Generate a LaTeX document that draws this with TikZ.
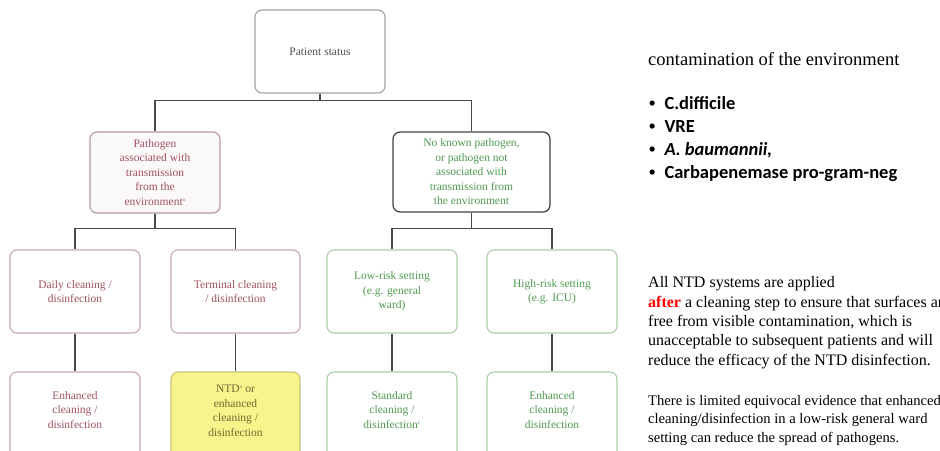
\documentclass[tikz,border=0pt]{standalone}
\usepackage{fontspec}
\setmainfont{Liberation Serif}
\newfontfamily\calfont{Carlito}
\newfontfamily\arialfont{Liberation Sans}
\definecolor{pinktxt}{HTML}{A0525F}
\definecolor{greentxt}{HTML}{4F9A4F}
\definecolor{pinkline}{HTML}{C9A9AF}
\definecolor{greenline}{HTML}{A9CDA9}
\definecolor{grayline}{HTML}{A0A0A0}
\definecolor{graytxt}{HTML}{505050}
\definecolor{connline}{HTML}{4A4A4A}
\definecolor{ntdfill}{HTML}{F8F48C}
\definecolor{ntdline}{HTML}{C8C27A}
\definecolor{ntdtxt}{HTML}{6A6A30}
\tikzset{
  box/.style={draw=grayline, line width=1.1pt, rounded corners=7pt, fill=white,
    align=center, inner sep=2pt, font=\fontsize{11.5}{14.5}\selectfont},
  pinkbox/.style={box, draw=pinkline, text=pinktxt},
  greenbox/.style={box, draw=greenline, text=greentxt},
  txt/.style={align=center, inner sep=0pt, font=\fontsize{11.5}{14.5}\selectfont},
  conn/.style={draw=connline, line width=1.5pt},
  bul/.style={anchor=base west, inner sep=0pt, font=\calfont\bfseries\fontsize{18.5}{22}\selectfont},
}
\newcommand{\bulmark}{{\arialfont\fontsize{18}{18}\selectfont\textbullet}\hspace{9pt}}
\begin{document}
\begin{tikzpicture}[x=1pt,y=-1pt]
\useasboundingbox (0,0) rectangle (940,450);
\clip (0,0) rectangle (940,450);
% row 1
\node[box, text=graytxt, minimum width=130, minimum height=83] (ps) at (320,51.5) {Patient status};
% row 2
\node[pinkbox, fill=pinktxt!4, draw=pinkline!90!black, minimum width=130, minimum height=81] (pa) at (155,172.5)
  {Pathogen\\associated with\\transmission\\from the\\environment\textsuperscript{\tiny a}};
\node[greenbox, draw=black!75, line width=1.2pt, minimum width=157, minimum height=80] (nk) at (471.5,172)
  {No known pathogen,\\or pathogen not\\associated with\\transmission from\\the environment};
% row 3
\node[pinkbox, minimum width=130, minimum height=83] (dc) at (75,291.5) {Daily cleaning /\\disinfection};
\node[pinkbox, minimum width=129, minimum height=83] (tc) at (235.5,291.5) {Terminal cleaning\\/ disinfection};
\node[greenbox, minimum width=130, minimum height=83] (lr) at (392,291.5) {Low-risk setting\\(e.g. general\\ward)};
\node[greenbox, minimum width=130, minimum height=83] (hr) at (552,291.5) {High-risk setting\\(e.g. ICU)};
% row 4
\node[pinkbox, minimum width=130, minimum height=100] (ec1) at (75,422) {};
\node[box, draw=ntdline, fill=ntdfill, minimum width=129, minimum height=100] (ntd) at (235.5,422) {};
\node[greenbox, minimum width=130, minimum height=100] (sc) at (392,422) {};
\node[greenbox, minimum width=130, minimum height=100] (ec2) at (552,422) {};
\node[txt, text=pinktxt] (ec1t) at (75,410) {Enhanced\\cleaning /\\disinfection};
\node[txt, text=ntdtxt] (ntdt) at (235.5,411) {NTD\textsuperscript{\tiny a} or\\enhanced\\cleaning /\\disinfection};
\node[txt, text=greentxt] (sct) at (392,410) {Standard\\cleaning /\\disinfection\textsuperscript{\tiny c}};
\node[txt, text=greentxt] (ec2t) at (552,410) {Enhanced\\cleaning /\\disinfection};
% connectors
\draw[conn] (ps.south) -- ++(0,7) -| (pa.north);
\draw[conn] (ps.south) -- ++(0,7) -| (nk.north);
\draw[conn] (pa.south) -- ++(0,15) -| (dc.north);
\draw[conn] (pa.south) -- ++(0,15) -| (tc.north);
\draw[conn] (nk.south) -- ++(0,16) -| (lr.north);
\draw[conn] (nk.south) -- ++(0,16) -| (hr.north);
\draw[conn] (dc.south) -- (ec1.north);
\draw[conn] (tc.south) -- (ntd.north);
\draw[conn] (lr.south) -- (sc.north);
\draw[conn] (hr.south) -- (ec2.north);
% right-hand text
\node[anchor=base west, inner sep=0pt, font=\fontsize{18.5}{22}\selectfont] (ct) at (648,65) {contamination of the environment};
\node[bul] (b1) at (649,109) {\bulmark C.difficile};
\node[bul] (b2) at (649,132) {\bulmark VRE};
\node[bul] (b3) at (649,155) {\bulmark\itshape A. baumannii,};
\node[bul] (b4) at (649,178) {\bulmark Carbapenemase pro-gram-neg};
\node[anchor=base west, inner sep=0pt, align=left, font=\fontsize{16}{19.3}\selectfont] (p1) at (648,365)
  {All NTD systems are applied\\
   {\color{red}\bfseries after} a cleaning step to ensure that surfaces are\\
   free from visible contamination, which is\\
   unacceptable to subsequent patients and will\\
   reduce the efficacy of the NTD disinfection.};
\node[anchor=base west, inner sep=0pt, align=left, font=\fontsize{14.6}{18.4}\selectfont] (p2) at (648,442)
  {There is limited equivocal evidence that enhanced\\
   cleaning/disinfection in a low-risk general ward\\
   setting can reduce the spread of pathogens.};
\end{tikzpicture}
\end{document}
